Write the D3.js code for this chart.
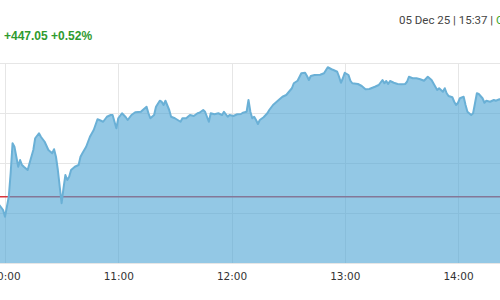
<!DOCTYPE html>
<html>
<head>
<meta charset="utf-8">
<script src="https://cdn.jsdelivr.net/npm/d3@7"></script>
<style>
  body { margin: 0; background: #fff; }
  svg { display: block; }
</style>
</head>
<body>
<svg id="chart"></svg>
<script>
// intraday points
const times = ["09:55","09:57","09:59","10:00","10:01","10:02","10:03","10:04","10:05","10:06","10:07","10:08","10:09","10:10","10:12","10:13","10:15","10:16","10:18","10:19","10:21","10:23","10:25","10:26","10:27","10:28","10:29","10:30","10:31","10:32","10:33","10:34","10:35","10:37","10:39","10:40","10:41","10:43","10:44","10:45","10:47","10:49","10:50","10:52","10:54","10:56","10:57","10:59","11:00","11:02","11:04","11:05","11:07","11:09","11:12","11:13","11:15","11:16","11:17","11:19","11:20","11:22","11:23","11:24","11:25","11:27","11:28","11:30","11:33","11:34","11:36","11:38","11:40","11:42","11:43","11:45","11:46","11:48","11:49","11:51","11:53","11:55","11:56","11:58","11:59","12:01","12:03","12:05","12:06","12:08","12:09","12:10","12:11","12:12","12:13","12:14","12:15","12:17","12:19","12:20","12:22","12:25","12:27","12:29","12:30","12:32","12:33","12:35","12:37","12:39","12:40","12:41","12:42","12:44","12:47","12:49","12:51","12:53","12:54","12:56","12:57","12:58","12:59","13:00","13:02","13:03","13:04","13:07","13:09","13:11","13:13","13:16","13:18","13:20","13:21","13:22","13:23","13:24","13:26","13:28","13:30","13:32","13:33","13:34","13:36","13:38","13:40","13:42","13:44","13:46","13:48","13:49","13:50","13:52","13:53","13:54","13:55","13:57","13:58","13:59","14:00","14:01","14:03","14:04","14:05","14:07","14:08","14:09","14:10","14:11","14:13","14:14","14:15","14:17","14:19","14:20","14:22","14:25"];
const prices = [85225,85232,85212,85185,85225,85265,85360,85479,85465,85425,85385,85412,85392,85385,85372,85399,85452,85499,85519,85505,85485,85452,85439,85455,85425,85372,85305,85239,85300,85352,85332,85345,85372,85385,85392,85425,85439,85465,85485,85505,85532,85575,85572,85565,85585,85592,85592,85539,85579,85599,85583,85572,85592,85603,85605,85612,85625,85599,85579,85592,85625,85649,85645,85632,85649,85612,85585,85579,85565,85579,85579,85592,85588,85599,85601,85612,85605,85565,85599,85595,85599,85592,85605,85585,85592,85588,85595,85596,85601,85605,85652,85605,85579,85585,85572,85556,85572,85583,85599,85612,85632,85652,85665,85672,85681,85699,85719,85729,85759,85761,85748,85732,85748,85752,85753,85759,85783,85775,85772,85765,85745,85721,85739,85761,85752,85729,85719,85716,85708,85695,85696,85705,85712,85732,85719,85728,85716,85728,85721,85716,85715,85716,85725,85745,85739,85739,85735,85729,85745,85732,85705,85692,85699,85685,85699,85679,85668,85663,85645,85632,85641,85659,85665,85632,85605,85592,85599,85639,85679,85676,85659,85641,85649,85645,85652,85649,85655,85650];
const prevClose = 85265.32;
const hourTicks = ["10:00","11:00","12:00","13:00","14:00"];
const priceTicks = [85000, 85200, 85400, 85600, 85800];
const changeText = "+447.05 +0.52%";
const stampText = "05 Dec 25 | 15:37 | ";
const statusText = "Open";

const width = 500, height = 300;
const parseTime = d3.timeParse("%H:%M");
const data = times.map((t, i) => ({ t: parseTime(t), v: prices[i] }));

const svg = d3.select("#chart").attr("width", width).attr("height", height);

const x = d3.scaleTime()
  .domain([parseTime("10:00"), parseTime("14:00")])
  .range([5, 458]);
const y = d3.scaleLinear()
  .domain([85000, 85800])
  .range([263, 63]);

// header texts
svg.append("text")
  .attr("x", 4).attr("y", 40)
  .attr("font-family", "Liberation Sans, Arial, sans-serif")
  .attr("font-size", 12).attr("font-weight", "bold")
  .attr("fill", "#2f9a2f")
  .text(changeText);

const stamp = svg.append("text")
  .attr("x", 399).attr("y", 24)
  .attr("font-family", "Roboto, Arial, sans-serif")
  .attr("font-size", 11.5)
  .attr("fill", "#444");
stamp.append("tspan").text(stampText);
stamp.append("tspan").attr("fill", "#3aa52a").text(statusText);

// grid
const grid = svg.append("g");
grid.selectAll(".hgrid")
  .data(priceTicks)
  .join("line")
  .attr("class", "hgrid")
  .attr("x1", 0).attr("x2", width)
  .attr("y1", d => y(d) + 0.5).attr("y2", d => y(d) + 0.5)
  .attr("stroke", "#e6e6e6");
grid.selectAll(".vgrid")
  .data(hourTicks.map(parseTime))
  .join("line")
  .attr("class", "vgrid")
  .attr("x1", d => Math.round(x(d)) + 0.5).attr("x2", d => Math.round(x(d)) + 0.5)
  .attr("y1", y(85800)).attr("y2", y(85000))
  .attr("stroke", "#e6e6e6");

// previous close line
svg.append("line")
  .attr("x1", 0).attr("x2", width)
  .attr("y1", y(prevClose)).attr("y2", y(prevClose))
  .attr("stroke", "#d9363e")
  .attr("stroke-width", 1.5);

// area + line
const area = d3.area()
  .x(d => x(d.t))
  .y0(y(85000))
  .y1(d => y(d.v));
const line = d3.line()
  .x(d => x(d.t))
  .y(d => y(d.v));

svg.append("path")
  .datum(data)
  .attr("d", area)
  .attr("fill", "#4ba3d3")
  .attr("fill-opacity", 0.6);

svg.append("path")
  .datum(data)
  .attr("d", line)
  .attr("fill", "none")
  .attr("stroke", "#6ab0d6")
  .attr("stroke-width", 2)
  .attr("stroke-linejoin", "round");

// x axis labels
const xAxis = svg.append("g")
  .attr("transform", `translate(0,${y(85000)})`)
  .call(d3.axisBottom(x)
    .tickValues(hourTicks.map(parseTime))
    .tickFormat(d3.timeFormat("%H:%M"))
    .tickSize(0)
    .tickPadding(10));
xAxis.select(".domain").remove();
xAxis.selectAll("text")
  .attr("font-family", "DejaVu Sans, Verdana, sans-serif")
  .attr("font-size", 10.5)
  .attr("fill", "#333");
</script>
</body>
</html>
